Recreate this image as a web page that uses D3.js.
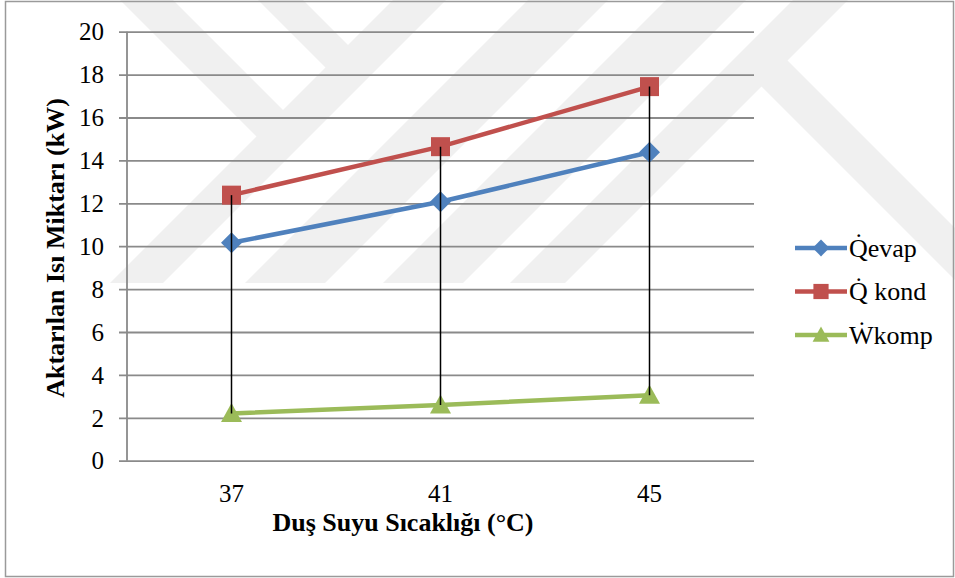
<!DOCTYPE html>
<html>
<head>
<meta charset="utf-8">
<script src="https://cdn.jsdelivr.net/npm/d3@7"></script>
</head>
<body style="margin:0">
<svg id="chart" width="955" height="578"></svg>
<script>
// Shower water temperature (°C) categories
const categories = ["37", "41", "45"];
// Transferred heat / power (kW) per series
const qEvap = [10.16, 12.07, 14.38];
const qKond = [12.38, 14.64, 17.44];
const wKomp = [2.2, 2.6, 3.05];
const seriesNames = ["Q\u0307evap", "Q\u0307 kond", "\u1E86komp"];
const yTickValues = [0, 2, 4, 6, 8, 10, 12, 14, 16, 18, 20];

const colors = ["#4F81BD", "#C0504D", "#9BBB59"];
const shapes = ["diamond", "square", "triangle"];
const series = [qEvap, qKond, wKomp].map((vals, i) => ({
  name: seriesNames[i], values: vals, color: colors[i], shape: shapes[i]
}));

const FONT = "Liberation Serif";
const W = 955, H = 578;
const plot = { left: 127, right: 754, top: 31.7, bottom: 460.7 };

const svg = d3.select("#chart");

// helper: serif text node
function label(sel, size, bold) {
  return sel.style("font-family", FONT).style("font-size", size + "px")
    .style("font-weight", bold ? "bold" : "normal").attr("fill", "#000");
}

// --- background watermark: light diagonal bands built from half-planes ---
function clipPoly(poly, a, b, c) { // keep a*x + b*y <= c
  const out = [];
  for (let i = 0; i < poly.length; i++) {
    const p = poly[i], q = poly[(i + 1) % poly.length];
    const fp = a * p[0] + b * p[1] - c, fq = a * q[0] + b * q[1] - c;
    if (fp <= 0) out.push(p);
    if ((fp < 0 && fq > 0) || (fp > 0 && fq < 0)) {
      const t = fp / (fp - fq);
      out.push([p[0] + t * (q[0] - p[0]), p[1] + t * (q[1] - p[1])]);
    }
  }
  return out;
}
function band(constraints) {
  let poly = [[-50, -50], [W + 50, -50], [W + 50, H + 50], [-50, H + 50]];
  constraints.forEach(([a, b, c]) => { poly = clipPoly(poly, a, b, c); });
  return poly;
}
const top0 = [0, -1, 0], bottomCut = [0, 1, 283], rightCut = [1, 0, W];
const wmBands = [
  // descending strokes (x - y between lo and hi)
  [[-1, 1, -120], [1, -1, 173], top0, [1, 1, 420]],
  [[-1, 1, -258], [1, -1, 303], top0, [1, 1, 420]],
  // ascending strokes (x + y between lo and hi)
  [[-1, -1, -393], [1, 1, 446], top0, bottomCut],
  [[-1, -1, -528], [1, 1, 608], top0, bottomCut],
  [[-1, -1, -666], [1, 1, 746], top0, bottomCut],
  [[-1, -1, -793], [1, 1, 848], top0, bottomCut],
  // right descending arm
  [[-1, 1, -675], [1, -1, 727], [-1, -1, -820], bottomCut, rightCut]
];
svg.append("g")
  .selectAll("polygon").data(wmBands).join("polygon")
  .attr("points", d => band(d).map(p => p.join(",")).join(" "))
  .attr("fill", "#f0f0f0");

// --- outer chart border ---
svg.append("rect")
  .attr("x", 5.5).attr("y", 1.5).attr("width", 948).attr("height", 575)
  .attr("fill", "none").attr("stroke", "#9a9a9a").attr("stroke-width", 1.5);

// --- scales ---
const x = d3.scaleBand().domain(categories).range([plot.left, plot.right]).padding(0);
const y = d3.scaleLinear().domain([0, 20]).range([plot.bottom, plot.top]);
const cx = c => x(c) + x.bandwidth() / 2;

// --- gridlines with short outside ticks ---
const yAxis = d3.axisLeft(y).tickValues(yTickValues)
  .tickSize(plot.right - plot.left).tickSizeOuter(0).tickFormat(() => "");
const gy = svg.append("g").attr("transform", `translate(${plot.right},0)`).call(yAxis);
gy.select(".domain").remove();
gy.selectAll(".tick text").remove();
gy.selectAll(".tick line").attr("stroke", "#8a8a8a").attr("stroke-width", 1.8)
  .attr("x2", -(plot.right - plot.left + 8));

// y tick labels
label(svg.append("g").selectAll("text").data(yTickValues).join("text")
  .attr("x", 104).attr("y", d => y(d)).attr("dy", "0.35em")
  .attr("text-anchor", "end"), 25, false).text(d => d);

// y axis line
svg.append("line")
  .attr("x1", plot.left).attr("x2", plot.left)
  .attr("y1", plot.top).attr("y2", plot.bottom)
  .attr("stroke", "#8a8a8a").attr("stroke-width", 1.8);

// x tick labels
label(svg.append("g").selectAll("text").data(categories).join("text")
  .attr("x", c => cx(c)).attr("y", 502).attr("text-anchor", "middle"), 25, false)
  .text(c => c);

// axis titles
label(svg.append("text").attr("x", 403).attr("y", 531).attr("text-anchor", "middle"), 26, true)
  .text("Duş Suyu Sıcaklığı (°C)");
label(svg.append("text").attr("transform", "translate(64,248) rotate(-90)")
  .attr("text-anchor", "middle"), 26, true)
  .text("Aktarılan Isı Miktarı (kW)");

// --- series lines ---
const line = d3.line().x((d, i) => cx(categories[i])).y(d => y(d));
svg.append("g").selectAll("path").data(series).join("path")
  .attr("d", s => line(s.values))
  .attr("fill", "none").attr("stroke", s => s.color)
  .attr("stroke-width", 4.5).attr("stroke-linejoin", "round");

// marker shapes
function markerPath(shape, k) {
  if (shape === "diamond") return `M0,${-10.5*k}L${10.5*k},0L0,${10.5*k}L${-10.5*k},0Z`;
  if (shape === "square") return `M${-9.5*k},${-9.5*k}H${9.5*k}V${9.5*k}H${-9.5*k}Z`;
  return `M0,${-10.5*k}L${10.5*k},${8.5*k}L${-10.5*k},${8.5*k}Z`;
}
series.forEach(s => {
  svg.append("g").selectAll("path").data(s.values).join("path")
    .attr("transform", (d, i) => `translate(${cx(categories[i])},${y(d)})`)
    .attr("d", markerPath(s.shape, 1))
    .attr("fill", s.color);
});

// --- high-low lines ---
svg.append("g").selectAll("line").data(categories).join("line")
  .attr("x1", c => cx(c)).attr("x2", c => cx(c))
  .attr("y1", (c, i) => y(d3.max(series, s => s.values[i])))
  .attr("y2", (c, i) => y(d3.min(series, s => s.values[i])))
  .attr("stroke", "#000").attr("stroke-width", 1.5);

// --- legend ---
const legend = svg.append("g").attr("transform", "translate(795,248)");
const rows = legend.selectAll("g").data(series).join("g")
  .attr("transform", (d, i) => `translate(0,${i * 43.5})`);
rows.append("line").attr("x1", 0).attr("x2", 52).attr("y1", 0).attr("y2", 0)
  .attr("stroke", d => d.color).attr("stroke-width", 4.5);
rows.append("path").attr("transform", "translate(26,0)")
  .attr("d", d => markerPath(d.shape, 0.8)).attr("fill", d => d.color);
label(rows.append("text").attr("x", 54).attr("y", 8.5), 26, false)
  .text(d => d.name);
</script>
</body>
</html>
